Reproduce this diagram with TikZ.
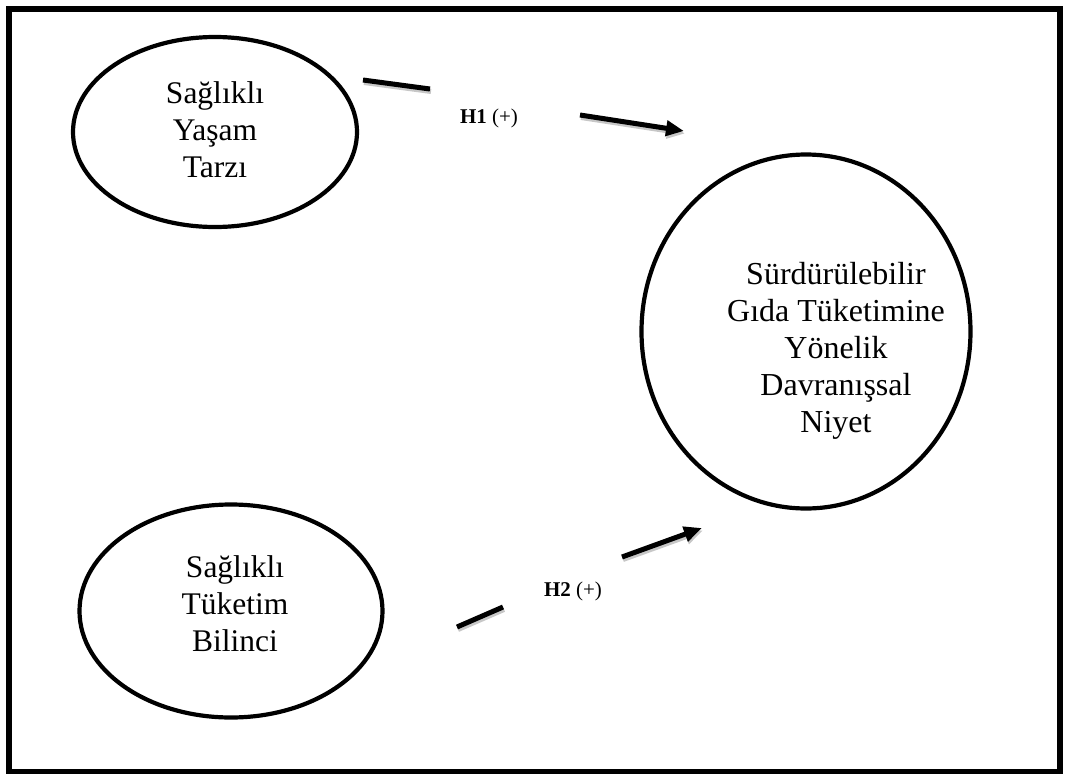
\documentclass[tikz,border=0pt]{standalone}
\usepackage{fontspec}
\setmainfont{Liberation Serif}
\usetikzlibrary{arrows.meta,shapes.geometric}
\begin{document}
\begin{tikzpicture}[x=1pt,y=-1pt,
  frame/.style={draw=black,line width=6pt},
  construct/.style={draw=black,line width=4.2pt,ellipse,inner sep=0pt},
  ctext/.style={align=center,inner sep=0pt,font=\fontsize{31.5}{36.8}\selectfont},
  bigtext/.style={align=center,inner sep=0pt,font=\fontsize{32}{37}\selectfont},
  hyp/.style={inner sep=0pt,font=\fontsize{21}{24}\selectfont},
  link/.style={line width=5pt,preaction={draw=black!22,line width=5pt,transform canvas={shift={(1pt,-2.5pt)}}}},
  linkarrow/.style={link,-{Triangle[length=18pt,width=15pt]}}
]
\useasboundingbox (0,0) rectangle (1069,774);
\draw[frame] (9,8.5) rectangle (1060,771.5);

% constructs
\node[construct,minimum width=284pt,minimum height=190pt] (syt) at (215,132) {};
\node[construct,minimum width=303pt,minimum height=213pt] (stb) at (231,611) {};
\node[construct,minimum width=329pt,minimum height=354pt] (sgt) at (806,331.5) {};

\node[ctext] (sytt) at (215,130) {Sağlıklı\\Yaşam\\Tarzı};
\node[ctext] (stbt) at (235,603.5) {Sağlıklı\\Tüketim\\Bilinci};
\node[bigtext] (sgtt) at (836,350.5) {Sürdürülebilir\\Gıda Tüketimine\\Yönelik\\Davranışsal\\Niyet};

% hypothesis labels
\node[hyp,anchor=base] (h1) at (489,123) {\textbf{H1} (+)};
\node[hyp,anchor=base] (h2) at (573,596) {\textbf{H2} (+)};

% connector end points
\coordinate (h1s) at (363,80);
\coordinate (h1g) at (430,89);
\coordinate (h1r) at (580,115);
\coordinate (h1e) at (684,131);
\coordinate (h2s) at (457,627);
\coordinate (h2g) at (503,607);
\coordinate (h2r) at (622,557);
\coordinate (h2e) at (702,528);

\draw[link] (h1s) -- (h1g);
\draw[linkarrow] (h1r) -- (h1e);
\draw[link] (h2s) -- (h2g);
\draw[linkarrow] (h2r) -- (h2e);
\end{tikzpicture}
\end{document}
